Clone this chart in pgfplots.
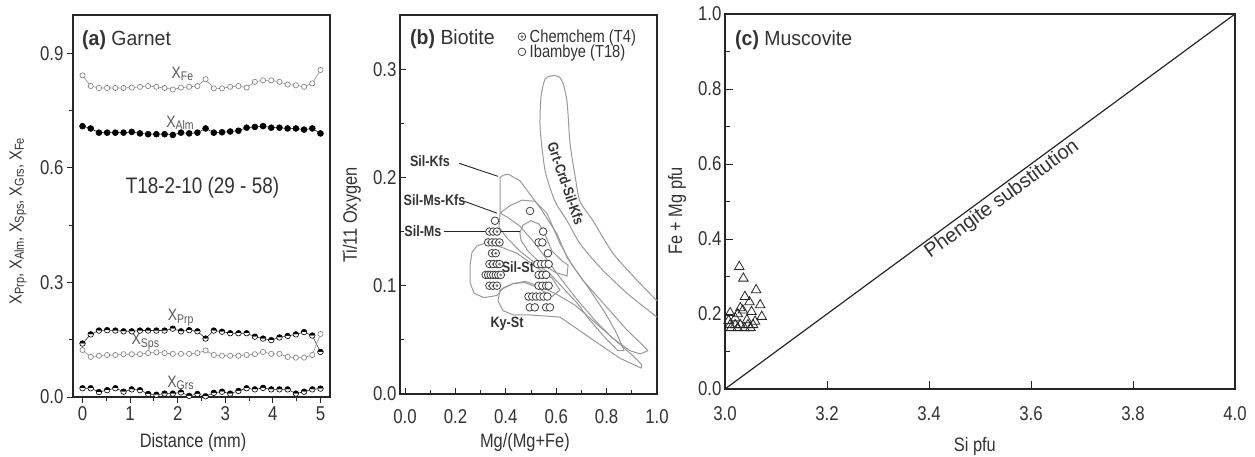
\documentclass[border=0pt]{standalone}
\usepackage{fontspec}
\setmainfont{Liberation Sans}[FakeStretch=0.84]
\newfontfamily\titlefont{Liberation Sans}[FakeStretch=0.95]
\newfontfamily\plainfont{Liberation Sans}
\usepackage{pgfplots}
\usepackage{pgfplotstable}
\pgfplotsset{compat=1.18}
\usetikzlibrary{plotmarks}

\definecolor{fieldgray}{HTML}{999999}
\definecolor{opengray}{HTML}{8A8A8A}
\definecolor{txtgray}{HTML}{333333}

\newcommand{\sub}[2]{\raisebox{-0.25ex}{\fontsize{#1}{#1}\selectfont #2}}

\pgfdeclareplotmark{circdot}{%
  \pgfsetfillcolor{white}%
  \pgfpathcircle{\pgfpointorigin}{\pgfplotmarksize}%
  \pgfusepathqfillstroke
  \pgfsetfillcolor{black!55}%
  \pgfpathcircle{\pgfpointorigin}{0.4\pgfplotmarksize}%
  \pgfusepathqfill
}

\pgfplotstableread{
x Fe Alm Prp Sps Grs
0.000 0.842 0.709 0.140 0.123 0.023
0.172 0.814 0.703 0.164 0.105 0.023
0.345 0.809 0.692 0.174 0.108 0.013
0.517 0.809 0.692 0.175 0.110 0.018
0.690 0.809 0.692 0.174 0.110 0.023
0.862 0.809 0.692 0.172 0.112 0.014
1.034 0.810 0.694 0.172 0.112 0.020
1.207 0.812 0.690 0.174 0.112 0.018
1.379 0.814 0.688 0.174 0.115 0.008
1.552 0.812 0.688 0.174 0.117 0.006
1.724 0.809 0.688 0.174 0.115 0.009
1.897 0.805 0.686 0.179 0.113 0.009
2.069 0.810 0.692 0.172 0.113 0.012
2.241 0.812 0.690 0.175 0.113 0.003
2.414 0.814 0.692 0.172 0.115 0.008
2.586 0.832 0.703 0.153 0.122 0.002
2.759 0.808 0.692 0.174 0.110 0.011
2.931 0.808 0.693 0.171 0.108 0.014
3.103 0.812 0.695 0.167 0.108 0.009
3.276 0.814 0.697 0.167 0.108 0.016
3.448 0.810 0.705 0.167 0.110 0.023
3.621 0.825 0.707 0.158 0.112 0.020
3.793 0.829 0.709 0.153 0.118 0.024
3.966 0.829 0.705 0.149 0.113 0.020
4.138 0.825 0.705 0.156 0.113 0.020
4.310 0.818 0.703 0.160 0.105 0.020
4.483 0.816 0.703 0.164 0.103 0.009
4.655 0.812 0.700 0.170 0.103 0.014
4.828 0.821 0.703 0.161 0.110 0.020
5.000 0.856 0.690 0.118 0.165 0.022
}\garnet

\pgfplotstableread{
x y
0.335 0.150
0.350 0.150
0.365 0.150
0.330 0.140
0.345 0.140
0.360 0.140
0.375 0.140
0.345 0.130
0.360 0.130
0.335 0.120
0.350 0.120
0.365 0.120
0.375 0.120
0.320 0.110
0.330 0.110
0.340 0.110
0.350 0.110
0.360 0.110
0.370 0.110
0.380 0.110
0.335 0.100
0.350 0.100
0.365 0.100
}\chemchem

\pgfplotstableread{
x y
0.357 0.160
0.496 0.169
0.548 0.150
0.530 0.140
0.545 0.140
0.567 0.130
0.525 0.120
0.540 0.120
0.555 0.120
0.570 0.120
0.530 0.110
0.545 0.110
0.560 0.110
0.530 0.100
0.545 0.100
0.560 0.100
0.570 0.100
0.490 0.090
0.505 0.090
0.520 0.090
0.535 0.090
0.550 0.090
0.565 0.090
0.495 0.080
0.515 0.080
0.560 0.080
0.575 0.080
}\ibambye

\pgfplotstableread{
x y
3.028 0.326
3.036 0.295
3.061 0.264
3.039 0.246
3.048 0.232
3.069 0.224
3.030 0.216
3.035 0.210
3.052 0.206
3.010 0.203
3.025 0.200
3.072 0.193
3.020 0.189
3.043 0.184
3.007 0.182
3.059 0.180
3.010 0.171
3.020 0.171
3.030 0.171
3.045 0.171
3.055 0.171
3.012 0.163
3.025 0.163
3.038 0.163
3.050 0.163
}\muscovite

\pgfplotsset{
  panel/.style={
    scale only axis, anchor=south west,
    axis line style={line width=1.3pt, black!85},
    tick style={line width=1pt, black!85},
    tick label style={font=\fontsize{20}{21}\selectfont, text=txtgray},
    label style={font=\fontsize{19.5}{21}\selectfont, text=txtgray},
    /pgf/number format/assume math mode=true,
    xtick pos=bottom, ytick pos=left,
  },
  onedec/.style={/pgf/number format/.cd, fixed, fixed zerofill, precision=1},
}

\begin{document}
\begin{tikzpicture}
\useasboundingbox (0pt,0pt) rectangle (1255pt,456pt);

% ---------------- (a) Garnet ----------------
\begin{axis}[panel, at={(73pt,59pt)}, width=257pt, height=382pt,
  xmin=-0.2, xmax=5.2, ymin=0, ymax=1,
  xtick={0,1,2,3,4,5}, minor xtick={0.5,1.5,2.5,3.5,4.5},
  ytick={0,0.3,0.6,0.9}, minor ytick={0.15,0.45,0.75},
  yticklabel style={onedec},
  tick align=outside, major tick length=6pt, minor tick length=4pt,
  xlabel={Distance (mm)},
  ylabel={\fontsize{17.5}{19}\selectfont X\sub{13}{Prp}, X\sub{13}{Alm}, X\sub{13}{Sps}, X\sub{13}{Grs}, X\sub{13}{Fe}},
  xlabel style={at={(axis description cs:0.467,-0.12)}, anchor=center},
  ylabel style={at={(axis description cs:-0.214,0.46)}, anchor=center},
]
\addplot[opengray, line width=0.6pt, mark=*, mark size=2.6pt,
  mark options={draw=opengray, fill=white, line width=0.7pt}] table[x=x, y=Fe] {\garnet};
\addplot[black, line width=0.5pt, mark=*, mark size=3pt,
  mark options={draw=black, fill=black}] table[x=x, y=Alm] {\garnet};
\addplot[black!80, line width=0.6pt, mark=halfcircle*, mark size=2.8pt,
  mark options={draw=black, fill=black}] table[x=x, y=Prp] {\garnet};
\addplot[opengray, line width=0.6pt, mark=*, mark size=2.6pt,
  mark options={draw=opengray, fill=white, line width=0.7pt}] table[x=x, y=Sps] {\garnet};
\addplot[black!80, line width=0.6pt, mark=halfcircle*, mark size=2.8pt,
  mark options={draw=black, fill=black}] table[x=x, y=Grs] {\garnet};

\node[text=black!65] at (axis cs:2.10,0.846) {\fontsize{16.5}{17}\selectfont X\sub{12.5}{Fe}};
\node[text=black!65] at (axis cs:2.05,0.718) {\fontsize{16.5}{17}\selectfont X\sub{12.5}{Alm}};
\node[text=black!65] at (axis cs:2.06,0.208) {\fontsize{16.5}{17}\selectfont X\sub{12.5}{Prp}};
\node[text=black!65] at (axis cs:1.32,0.145) {\fontsize{16.5}{17}\selectfont X\sub{12.5}{Sps}};
\node[text=black!65] at (axis cs:2.06,0.038) {\fontsize{16.5}{17}\selectfont X\sub{12.5}{Grs}};
\node[text=txtgray] at (axis cs:2.52,0.547) {\fontsize{22.5}{24}\selectfont T18-2-10 (29 - 58)};
\node[anchor=base west, text=txtgray, inner sep=0pt] at (rel axis cs:0.035,0.921)
  {\titlefont\fontsize{20.5}{22}\selectfont\bfseries (a)\mdseries\ Garnet};
\end{axis}

% ---------------- (b) Biotite ----------------
\begin{axis}[panel, at={(400pt,62pt)}, width=257pt, height=379pt,
  xmin=-0.02, xmax=1.0, ymin=0, ymax=0.35,
  xtick={0,0.2,0.4,0.6,0.8,1.0}, minor xtick={0.1,0.3,0.5,0.7,0.9},
  ytick={0,0.1,0.2,0.3}, minor ytick={0.05,0.15,0.25},
  xticklabel style={yshift=-12pt, onedec}, yticklabel style={onedec},
  tick align=inside, major tick length=6pt, minor tick length=4pt,
  xlabel={Mg/(Mg+Fe)}, ylabel={Ti/11 Oxygen},
  xlabel style={at={(axis description cs:0.486,-0.129)}, anchor=center},
  ylabel style={at={(axis description cs:-0.187,0.472)}, anchor=center},
  legend style={at={(rel axis cs:0.455,0.97)}, anchor=north west, draw=none, fill=none,
    font=\fontsize{17.5}{18}\selectfont, text=txtgray, row sep=-3pt, inner sep=1pt,
    cells={anchor=west}, nodes={inner xsep=4pt}},
  legend cell align=left,
]
% Grt-Crd-Sil-Kfs
\addplot[fieldgray, line width=1pt, smooth, tension=0.4, forget plot] coordinates {
 (1.000,0.071) (0.881,0.093) (0.774,0.117) (0.694,0.139) (0.643,0.160) (0.595,0.178)
 (0.556,0.206) (0.536,0.246) (0.540,0.275) (0.556,0.291) (0.587,0.294) (0.611,0.293)
 (0.627,0.287) (0.643,0.270) (0.655,0.231) (0.675,0.201) (0.694,0.178) (0.746,0.160)
 (0.825,0.130) (0.921,0.105) (1.000,0.086)};
% Sil-Kfs
\addplot[fieldgray, line width=1pt, forget plot] coordinates {
 (0.377,0.167) (0.377,0.200) (0.389,0.202) (0.409,0.203) (0.456,0.197) (0.536,0.172)
 (0.603,0.148) (0.643,0.126) (0.706,0.105) (0.786,0.084) (0.881,0.059) (0.944,0.045)
 (0.964,0.040) (0.933,0.037) (0.893,0.040) (0.821,0.052) (0.754,0.068) (0.687,0.086)
 (0.623,0.105) (0.567,0.123) (0.516,0.139) (0.456,0.155) (0.409,0.163) (0.377,0.167)};
% Sil-Ms-Kfs
\addplot[fieldgray, line width=1pt, forget plot] coordinates {
 (0.373,0.154) (0.377,0.167) (0.417,0.174) (0.464,0.179) (0.516,0.178) (0.563,0.167)
 (0.615,0.139) (0.663,0.119) (0.734,0.096) (0.794,0.075) (0.833,0.059) (0.861,0.045)
 (0.869,0.040) (0.845,0.040) (0.794,0.052) (0.734,0.068) (0.683,0.084) (0.627,0.098)
 (0.575,0.111) (0.516,0.121) (0.456,0.132) (0.405,0.144) (0.373,0.154)};
% Sil-Ms
\addplot[fieldgray, line width=1pt, forget plot] coordinates {
 (0.456,0.149) (0.468,0.156) (0.500,0.160) (0.532,0.157) (0.556,0.147) (0.583,0.132)
 (0.623,0.123) (0.647,0.119) (0.643,0.109) (0.599,0.112) (0.536,0.121) (0.488,0.132)
 (0.460,0.142) (0.456,0.149)};
% Sil-St
\addplot[fieldgray, line width=1pt, forget plot] coordinates {
 (0.329,0.140) (0.389,0.135) (0.444,0.130) (0.524,0.117) (0.583,0.107) (0.615,0.096)
 (0.583,0.090) (0.528,0.098) (0.476,0.103) (0.429,0.102) (0.389,0.098) (0.365,0.091)
 (0.313,0.089) (0.274,0.093) (0.258,0.103) (0.258,0.119) (0.266,0.131) (0.286,0.137)
 (0.329,0.140)};
% Ky-St
\addplot[fieldgray, line width=1pt, forget plot] coordinates {
 (0.377,0.096) (0.429,0.102) (0.476,0.104) (0.528,0.100) (0.595,0.093) (0.675,0.082)
 (0.754,0.066) (0.833,0.050) (0.901,0.036) (0.940,0.027) (0.937,0.024) (0.853,0.033)
 (0.746,0.050) (0.615,0.071) (0.556,0.072) (0.496,0.073) (0.429,0.073) (0.389,0.077)
 (0.369,0.086) (0.377,0.096)};

% pointer lines
\draw[black!85, line width=0.9pt] (axis cs:0.215,0.213) -- (axis cs:0.369,0.201);
\draw[black!85, line width=0.9pt] (axis cs:0.235,0.178) -- (axis cs:0.365,0.167);
\draw[black!85, line width=0.9pt] (axis cs:0.153,0.150) -- (axis cs:0.456,0.150);

\addplot[only marks, mark=circdot, mark size=3.8pt, mark options={draw=black!75, line width=0.8pt}]
  table[x=x, y=y] {\chemchem};
\addlegendentry{Chemchem (T4)}
\addplot[only marks, mark=*, mark size=3.8pt, mark options={draw=black!75, fill=white, line width=0.8pt}]
  table[x=x, y=y] {\ibambye};
\addlegendentry{Ibambye (T18)}

\node[font=\bfseries\fontsize{15}{15}\selectfont, text=txtgray] at (axis cs:0.099,0.215) {Sil-Kfs};
\node[font=\bfseries\fontsize{15}{15}\selectfont, text=txtgray] at (axis cs:0.117,0.179) {Sil-Ms-Kfs};
\node[font=\bfseries\fontsize{15}{15}\selectfont, text=txtgray] at (axis cs:0.071,0.150) {Sil-Ms};
\node[font=\bfseries\fontsize{15}{15}\selectfont, text=txtgray] at (axis cs:0.448,0.117) {Sil-St};
\node[font=\bfseries\fontsize{15}{15}\selectfont, text=txtgray] at (axis cs:0.405,0.065) {Ky-St};
\node[font=\bfseries\fontsize{14.5}{15}\selectfont, text=txtgray, rotate=-71] at (axis cs:0.639,0.194) {Grt-Crd-Sil-Kfs};
\node[anchor=base west, text=txtgray, inner sep=0pt] at (rel axis cs:0.039,0.921)
  {\titlefont\fontsize{20.5}{22}\selectfont\bfseries (b)\mdseries\ Biotite};
\end{axis}

% ---------------- (c) Muscovite ----------------
\begin{axis}[panel, at={(725pt,67pt)}, width=510pt, height=375pt,
  xmin=3, xmax=4, ymin=0, ymax=1,
  xtick={3.0,3.2,3.4,3.6,3.8,4.0},
  ytick={0,0.2,0.4,0.6,0.8,1.0}, minor ytick={0.1,0.3,0.5,0.7,0.9},
  xticklabel style={yshift=-14pt, onedec}, yticklabel style={onedec},
  tick align=inside, major tick length=8pt, minor tick length=5pt,
  xlabel={Si pfu}, ylabel={Fe + Mg pfu},
  xlabel style={at={(axis description cs:0.49,-0.152)}, anchor=center},
  ylabel style={at={(axis description cs:-0.094,0.475)}, anchor=center},
]
\addplot[black!85, line width=1.2pt] coordinates {(3,0) (4,1)}
  node[pos=0.53, sloped, anchor=north, inner sep=1.5pt, text=txtgray,
       font=\plainfont\fontsize{20}{20}\selectfont] {Phengite substitution};
\addplot[only marks, mark=triangle, mark size=5.5pt, mark options={draw=black!85, line width=0.8pt}]
  table[x=x, y=y] {\muscovite};
\node[anchor=base west, text=txtgray, inner sep=0pt] at (rel axis cs:0.0196,0.917)
  {\titlefont\fontsize{20.5}{22}\selectfont\bfseries (c)\mdseries\ Muscovite};
\end{axis}
\end{tikzpicture}
\end{document}
